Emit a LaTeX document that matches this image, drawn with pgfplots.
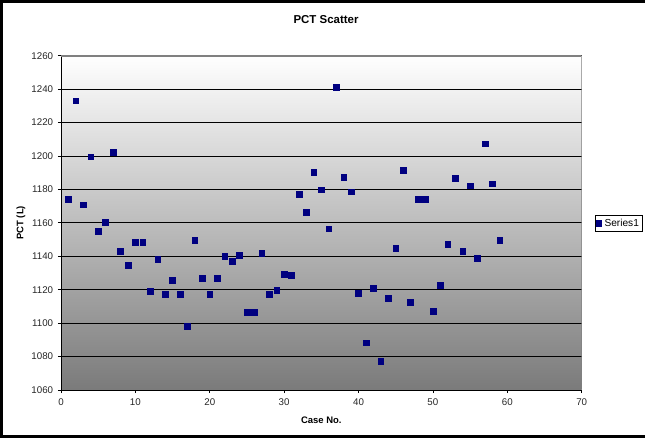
\documentclass[border=0pt]{standalone}
\usepackage{fontspec}
\setmainfont{Liberation Sans}
\usepackage{pgfplots}
\pgfplotsset{compat=1.18}
\usepackage{pgfplotstable}

\definecolor{marknavy}{HTML}{000080}
\definecolor{frame}{HTML}{808080}

% case number, PCT (L)
\pgfplotstableread{
case pct
1 1174.3
2 1233.0
3 1170.9
4 1199.6
5 1155.0
6 1160.4
7 1202.4
8 1143.1
9 1134.7
10 1148.3
11 1148.3
12 1119.0
13 1138.1
14 1117.4
15 1125.8
16 1117.4
17 1098.1
18 1149.5
19 1126.8
20 1117.4
21 1126.8
22 1139.9
23 1136.9
24 1140.5
25 1106.7
26 1106.7
27 1141.7
28 1117.4
29 1119.8
30 1129.4
31 1128.6
32 1176.9
33 1166.4
34 1190.3
35 1179.8
36 1156.4
37 1241.0
38 1187.3
39 1178.6
40 1118.0
41 1088.2
42 1121.0
43 1077.4
44 1115.0
45 1144.9
46 1191.5
47 1112.6
48 1173.9
49 1173.9
50 1107.3
51 1122.8
52 1147.3
53 1186.7
54 1143.1
55 1182.2
56 1138.9
57 1207.3
58 1183.4
59 1149.7
}\pctdata

\begin{document}
\begin{tikzpicture}
% chart area and its frame (open on the right)
\path[use as bounding box] (0,0) rectangle (483.75pt,328.5pt);
\fill[black] (0,0) rectangle (2.6pt,328.5pt);
\fill[black] (0,326.25pt) rectangle (483.75pt,328.5pt);
\fill[black] (0,0) rectangle (483.75pt,2.25pt);

\begin{axis}[
  at={(45.75pt,36pt)}, anchor=south west,
  scale only axis,
  width=390.5pt, height=250.7pt,
  xmin=0, xmax=70, ymin=1060, ymax=1260,
  xtick={0,10,...,70}, ytick={1060,1080,...,1260},
  enlargelimits=false,
  axis x line*=bottom, axis y line*=left,
  axis line style={-, black, line width=0.7pt},
  tick align=outside,
  major tick length=2.4pt,
  tick style={black, line width=0.6pt},
  ymajorgrids,
  major grid style={black, line width=0.6pt},
  axis background/.style={top color=white, middle color=black!17, bottom color=black!52},
  /pgf/number format/assume math mode=true,
  /pgf/number format/1000 sep={},
  tick label style={font=\fontsize{7.3}{8.5}\selectfont, text=black!85},
  xticklabel style={yshift=-0.6pt},
  title={PCT Scatter},
  title style={at={(rel axis cs:0.509,1.083)}, anchor=center, font=\fontsize{8.6}{10}\selectfont\bfseries},
  xlabel={Case No.},
  xlabel style={at={(rel axis cs:0.5,-0.0897)}, anchor=center, font=\fontsize{7.1}{8.5}\selectfont\bfseries},
  ylabel={PCT (L)},
  ylabel style={at={(rel axis cs:-0.0768,0.5)}, anchor=center, font=\fontsize{7.1}{8.5}\selectfont\bfseries},
  legend style={at={(rel axis cs:1.0255,0.5235)}, anchor=north west,
    draw=black, line width=0.6pt, inner sep=0.6pt,
    font=\fontsize{7.6}{8.5}\selectfont,
    legend cell align=left},
  legend image code/.code={\draw[#1] plot coordinates {(0.12cm,0cm)};},
]
% grey border on the top and right of the plot area
\draw[frame, line width=1.5pt] (rel axis cs:0,1) -- (rel axis cs:1,1) -- (rel axis cs:1,0);
\addplot[only marks, mark=square*, mark size=2.15pt,
  mark options={draw=marknavy, fill=marknavy}] table[x=case, y=pct] {\pctdata};
\addlegendentry{Series1}
\end{axis}
\end{tikzpicture}
\end{document}
